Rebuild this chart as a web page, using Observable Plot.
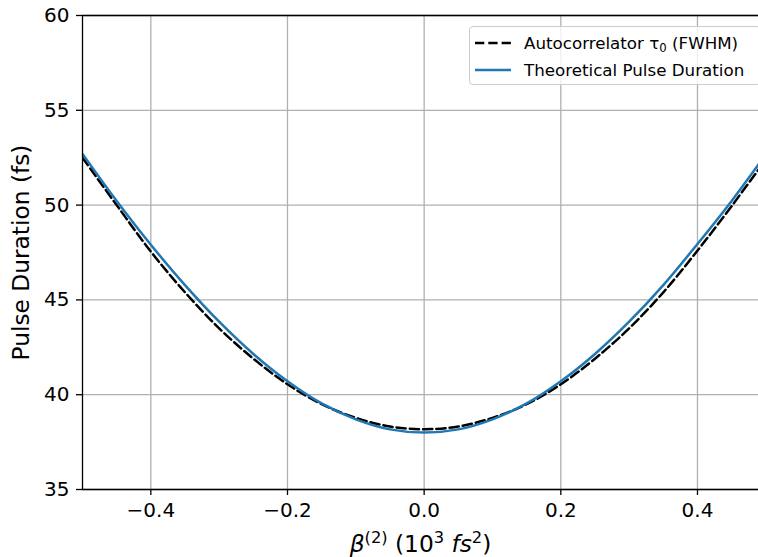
<!DOCTYPE html>
<html>
<head>
<meta charset="utf-8">
<script src="https://cdn.jsdelivr.net/npm/d3@7"></script>
<script src="https://cdn.jsdelivr.net/npm/@observablehq/plot@0.6"></script>
<style>
html, body { margin: 0; padding: 0; background: #fff; overflow: hidden; }
#wrap { position: relative; width: 758px; height: 557px; font-family: "DejaVu Sans", sans-serif; overflow: hidden; }
#wrap svg { display: block; }
.legend { position: absolute; left: 469px; top: 26px; width: 292px; height: 59px; box-sizing: border-box;
  border: 1.3px solid #cccccc; border-radius: 4px; background: rgba(255,255,255,0.8); }
.row { position: absolute; left: 0; height: 20px; width: 290px; }
.row svg { position: absolute; left: 4px; top: 0; }
.row span { position: absolute; left: 54px; top: 0; font-size: 16.7px; line-height: 20px; color: #000; white-space: nowrap; }
.row sub { font-size: 11.7px; vertical-align: -3px; line-height: 0; }
</style>
</head>
<body>
<div id="wrap"></div>
<script>
// x values: group delay dispersion β(2) in 10^3 fs^2
const beta = [-0.5, -0.45, -0.4, -0.35, -0.3, -0.25, -0.2, -0.15, -0.1, -0.05, 0,
              0.05, 0.1, 0.15, 0.2, 0.25, 0.3, 0.35, 0.4, 0.45, 0.5];
// Autocorrelator τ0 (FWHM), fs
const autocorr = [52.5, 50.0, 47.55, 45.4, 43.5, 41.9, 40.55, 39.5, 38.78, 38.32, 38.18,
                  38.32, 38.78, 39.5, 40.55, 41.9, 43.5, 45.4, 47.6, 49.95, 52.4];
// Theoretical pulse duration, fs
const theory = [52.7, 50.22, 47.91, 45.78, 43.85, 42.15, 40.71, 39.54, 38.7, 38.17, 38.0,
                38.17, 38.7, 39.54, 40.71, 42.15, 43.85, 45.78, 47.95, 50.22, 52.68];
const xTicks = [-0.4, -0.2, 0.0, 0.2, 0.4];
const yTicks = [35, 40, 45, 50, 55, 60];
const xDomain = [-0.5, 0.4893];
const yDomain = [35, 60];
const seriesLabels = ["Autocorrelator τ0 (FWHM)", "Theoretical Pulse Duration"];

const autoData = beta.map((b, i) => ({b, v: autocorr[i]}));
const theoData = beta.map((b, i) => ({b, v: theory[i]}));

const grid = {stroke: "#b0b0b0", strokeOpacity: 1, strokeWidth: 1.3};
const spine = {stroke: "#000", strokeWidth: 1.3};

const chart = Plot.plot({
  width: 758, height: 557,
  marginLeft: 82, marginRight: 0, marginTop: 15, marginBottom: 68,
  style: {fontFamily: "DejaVu Sans", fontSize: "20px", color: "#000", background: "#fff", overflow: "visible"},
  x: {domain: xDomain},
  y: {domain: yDomain},
  marks: [
    Plot.gridX(xTicks, grid),
    Plot.gridY(yTicks, grid),
    Plot.line(autoData, {x: "b", y: "v", stroke: "#000", strokeWidth: 2.5, strokeDasharray: "9.3,4", curve: "catmull-rom", clip: true}),
    Plot.line(theoData, {x: "b", y: "v", stroke: "#1f77b4", strokeWidth: 2.5, curve: "catmull-rom", clip: true}),
    Plot.ruleX([xDomain[0]], spine),
    Plot.ruleY(yDomain, spine),
    Plot.axisX(xTicks, {tickSize: 6, tickPadding: 7, strokeWidth: 1.3, tickFormat: d3.format(".1f"),
      label: "β(2) (10³ fs²)", labelAnchor: "center", labelArrow: "none", labelOffset: 62}),
    Plot.axisY(yTicks, {tickSize: 6, tickPadding: 7, strokeWidth: 1.3, tickFormat: d => String(d),
      label: "Pulse Duration (fs)", labelAnchor: "center", labelArrow: "none", labelOffset: 70})
  ]
});

const wrap = document.getElementById("wrap");
wrap.appendChild(chart);

// Style axis labels (mathtext-like x label)
const svg = d3.select(chart);
svg.selectAll('g[aria-label="y-axis label"] text').attr("font-size", "23.3px");
const xl = svg.select('g[aria-label="x-axis label"] text');
if (!xl.empty()) {
  xl.attr("font-size", "23.3px").text("");
  const parts = [
    {t: "β", italic: true, sup: false},
    {t: "(2)", sup: true},
    {t: " (10", sup: false},
    {t: "3", sup: true},
    {t: " ", sup: false},
    {t: "fs", italic: true, sup: false},
    {t: "2", sup: true},
    {t: ")", sup: false}
  ];
  let up = false;
  parts.forEach(p => {
    const ts = xl.append("tspan").text(p.t);
    if (p.italic) ts.attr("font-style", "italic");
    if (p.sup) { ts.attr("font-size", "16.3px"); if (!up) { ts.attr("dy", -9); up = true; } }
    else if (up) { ts.attr("dy", 9); up = false; }
  });
}

// Legend (inside the axes, upper right)
const legend = document.createElement("div");
legend.className = "legend";
legend.innerHTML = `
  <div class="row" style="top:6px">
    <svg width="40" height="20"><line x1="1" y1="10" x2="37" y2="10" stroke="#000" stroke-width="2.5" stroke-dasharray="9.3,4"/></svg>
    <span>Autocorrelator τ<sub>0</sub> (FWHM)</span>
  </div>
  <div class="row" style="top:32.5px">
    <svg width="40" height="20"><line x1="1" y1="10" x2="37" y2="10" stroke="#1f77b4" stroke-width="2.5"/></svg>
    <span>${seriesLabels[1]}</span>
  </div>`;
wrap.appendChild(legend);
</script>
</body>
</html>
